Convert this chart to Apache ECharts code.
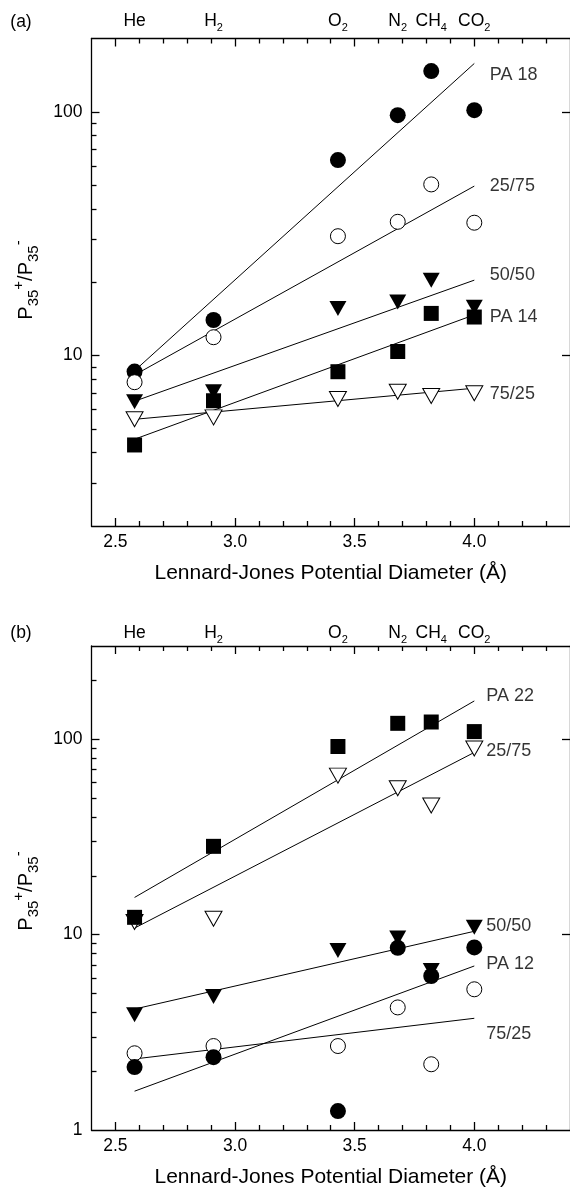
<!DOCTYPE html>
<html>
<head>
<meta charset="utf-8">
<script src="https://cdn.jsdelivr.net/npm/echarts@6/dist/echarts.min.js"></script>
<style>
html, body { margin: 0; padding: 0; background: #fff; }
#chart { width: 570px; height: 1189px; }
</style>
</head>
<body>
<div id="chart"></div>
<script>
"use strict";

// gases on the top axis, Lennard-Jones diameter (A)
var gasX = [2.58, 2.91, 3.43, 3.68, 3.82, 4.0];
var gasNames = ['He', 'H{s|2}', 'O{s|2}', 'N{s|2}', 'CH{s|4}', 'CO{s|2}'];

var xLabels = [2.5, 3.0, 3.5, 4.0];
var xMajorTicks = [2.5, 3.0, 3.5, 4.0, 4.5];
var xMinorTicks = [2.6, 2.7, 2.8, 2.9, 3.1, 3.2, 3.3, 3.4, 3.6, 3.7, 3.8, 3.9, 4.1, 4.2, 4.3];

var yLabelsA = [10, 100];
var yMinorA = [3, 4, 5, 6, 7, 8, 9, 20, 30, 40, 50, 60, 70, 80, 90];
var yLabelsB = [1, 10, 100];
var yMinorB = [2, 3, 4, 5, 6, 7, 8, 9, 20, 30, 40, 50, 60, 70, 80, 90, 200];

// panel (a) P35+/P35- per gas
var pa18A = [8.6, 14.0, 63.4, 96.9, 147, 101.6];
var r5050A = [6.47, 7.11, 15.6, 16.6, 20.4, 15.8];
var r2575A = [7.78, 11.9, 30.9, 35.4, 50.4, 35.1];
var pa14A = [4.3, 6.53, 8.59, 10.4, 14.9, 14.4];
var r7525A = [5.48, 5.58, 6.64, 7.11, 6.83, 7.01];

// panel (a) fit lines, end points [x, y]
var fitPA18A = [[2.58, 8.67], [4.0, 158]];
var fit2575A = [[2.58, 8.33], [4.0, 49.6]];
var fit5050A = [[2.58, 6.5], [4.0, 20.4]];
var fitPA14A = [[2.58, 4.54], [4.0, 14.7]];
var fit7525A = [[2.58, 5.48], [4.0, 7.35]];

var namesA = ['PA 18', '25/75', '50/50', 'PA 14', '75/25'];
var namePosA = [[4.065, 141], [4.065, 49.6], [4.065, 21.4], [4.065, 14.4], [4.065, 6.96]];

// panel (b)
var r2575B = [11.6, 12.06, 65.1, 56.1, 45.8, 89.7];
var pa22B = [12.26, 28.3, 91.8, 120.6, 122.5, 109.4];
var r5050B = [3.89, 4.82, 8.29, 9.62, 6.56, 10.9];
var r7525B = [2.47, 2.69, 2.69, 4.24, 2.17, 5.25];
var pa12B = [2.10, 2.36, 1.25, 8.56, 6.14, 8.6];

var fitPA22B = [[2.58, 15.5], [4.0, 157]];
var fit2575B = [[2.58, 10.8], [4.0, 85.6]];
var fit5050B = [[2.58, 4.16], [4.0, 10.4]];
var fitPA12B = [[2.58, 1.58], [4.0, 6.91]];
var fit7525B = [[2.58, 2.31], [4.0, 3.73]];

var namesB = ['PA 22', '25/75', '50/50', 'PA 12', '75/25'];
var namePosB = [[4.05, 167], [4.05, 87.2], [4.05, 11.1], [4.05, 7.1], [4.05, 3.10]];

var FONT = "'Liberation Sans', Arial, Helvetica, sans-serif";
var BLACK = '#000';
var axisLine = { show: true, lineStyle: { color: BLACK, width: 1.3 } };
var noLine = { show: false };

var filledCircle = { symbol: 'circle', symbolSize: 16, itemStyle: { color: BLACK, opacity: 1 } };
var openCircle = { symbol: 'circle', symbolSize: 15, itemStyle: { color: '#fff', borderColor: BLACK, borderWidth: 1, opacity: 1 } };
var filledSquare = { symbol: 'rect', symbolSize: 15, itemStyle: { color: BLACK, opacity: 1 } };
var filledDown = { symbol: 'triangle', symbolSize: [17, 15], symbolRotate: 180, itemStyle: { color: BLACK, opacity: 1 } };
var openDown = { symbol: 'triangle', symbolSize: [17, 15], symbolRotate: 180, itemStyle: { color: '#fff', borderColor: BLACK, borderWidth: 1, opacity: 1 } };

function gasLabel(v) {
	var best = 0;
	for (var i = 1; i < gasX.length; i++) {
		if (Math.abs(gasX[i] - v) < Math.abs(gasX[best] - v)) best = i;
	}
	return gasNames[best];
}

function xAxes(g, topMargin) {
	var base = { gridIndex: g, type: 'value', min: 2.4, max: 4.4, splitLine: { show: false } };
	return [
		Object.assign({}, base, {
			position: 'bottom', axisLine: axisLine,
			axisTick: { inside: true, length: 8, customValues: xMajorTicks, lineStyle: { color: BLACK, width: 1.3 } },
			axisLabel: { customValues: xLabels, margin: 7, fontSize: 17.5, color: BLACK, fontFamily: FONT,
				formatter: function(v) { return v.toFixed(1); } },
			name: 'Lennard-Jones Potential Diameter (\u00c5)', nameLocation: 'middle', nameGap: 37,
			nameTextStyle: { fontSize: 21, color: BLACK, fontFamily: FONT }
		}),
		Object.assign({}, base, {
			position: 'bottom', axisLine: noLine, axisLabel: { show: false },
			axisTick: { inside: true, length: 5, customValues: xMinorTicks, lineStyle: { color: BLACK, width: 1.3 } }
		}),
		Object.assign({}, base, {
			position: 'top', axisLine: axisLine,
			axisTick: { inside: true, length: 8, customValues: xMajorTicks, lineStyle: { color: BLACK, width: 1.3 } },
			axisLabel: { customValues: gasX, margin: topMargin, fontSize: 17.5, lineHeight: 24, color: BLACK, fontFamily: FONT,
				formatter: gasLabel,
				rich: { s: { fontSize: 11, lineHeight: 11, verticalAlign: 'bottom', color: BLACK, fontFamily: FONT } } }
		}),
		Object.assign({}, base, {
			position: 'top', axisLine: noLine, axisLabel: { show: false },
			axisTick: { inside: true, length: 5, customValues: xMinorTicks, lineStyle: { color: BLACK, width: 1.3 } }
		})
	];
}

function yAxes(g, min, max, labels, minor) {
	var base = { gridIndex: g, type: 'log', logBase: 10, min: min, max: max, splitLine: { show: false } };
	return [
		Object.assign({}, base, {
			position: 'left', axisLine: axisLine,
			axisTick: { inside: true, length: 8, customValues: [10, 100], lineStyle: { color: BLACK, width: 1.3 } },
			axisLabel: { customValues: labels, margin: 9, fontSize: 17.5, color: BLACK, fontFamily: FONT,
				formatter: function(v) { return String(Math.round(v)); } }
		}),
		Object.assign({}, base, {
			position: 'left', axisLine: noLine, axisLabel: { show: false },
			axisTick: { inside: true, length: 5, customValues: minor, lineStyle: { color: BLACK, width: 1.3 } }
		}),
		Object.assign({}, base, {
			position: 'right', axisLine: axisLine, axisLabel: { show: false },
			axisTick: { inside: true, length: 8, customValues: [10, 100], lineStyle: { color: BLACK, width: 1.3 } }
		})
	];
}

function pts(vals) {
	return gasX.map(function(x, i) { return [x, vals[i]]; });
}

function fitLine(g, data) {
	return {
		type: 'line', xAxisIndex: g * 4, yAxisIndex: g * 3, data: data,
		showSymbol: false, symbol: 'none', silent: true, z: 2,
		lineStyle: { color: BLACK, width: 1 }
	};
}

function markers(g, vals, style) {
	return Object.assign({ type: 'scatter', xAxisIndex: g * 4, yAxisIndex: g * 3, data: pts(vals), z: 3, silent: true }, style);
}

function names(g, labels, pos) {
	return {
		type: 'scatter', xAxisIndex: g * 4, yAxisIndex: g * 3, symbol: 'circle', symbolSize: 0, silent: true, z: 4,
		data: pos.map(function(p, i) { return { value: p, name: labels[i] }; }),
		label: { show: true, position: 'right', distance: 0, formatter: '{b}', fontSize: 18, color: BLACK, fontFamily: FONT }
	};
}

var yTitle = {
	text: '{p|P}{s|35}{u|+}{p|/P}{s|35}{u|-}',
	rich: {
		p: { fontSize: 20, lineHeight: 30, fill: BLACK, fontFamily: FONT },
		s: { fontSize: 15, lineHeight: 15, verticalAlign: 'bottom', fill: BLACK, fontFamily: FONT },
		u: { fontSize: 15, lineHeight: 15, verticalAlign: 'top', fill: BLACK, fontFamily: FONT }
	},
	align: 'center', verticalAlign: 'middle'
};

var myChart = echarts.init(document.getElementById('chart'), null, { renderer: 'canvas' });

myChart.setOption({
	animation: false,
	backgroundColor: '#fff',
	textStyle: { fontFamily: FONT },
	grid: [
		{ left: 91.5, top: 38.5, width: 488, height: 487.5 },
		{ left: 91.5, top: 646, width: 488, height: 488 }
	],
	xAxis: xAxes(0, 5).concat(xAxes(1, 1)),
	yAxis: yAxes(0, 2, 200, yLabelsA, yMinorA).concat(yAxes(1, 1, 300, yLabelsB, yMinorB)),
	graphic: [
		{ type: 'text', x: 21, y: 22, style: { text: '(a)', fontSize: 17.5, fill: BLACK, fontFamily: FONT, align: 'center', verticalAlign: 'middle' } },
		{ type: 'text', x: 21, y: 633, style: { text: '(b)', fontSize: 17.5, fill: BLACK, fontFamily: FONT, align: 'center', verticalAlign: 'middle' } },
		{ type: 'text', x: 26, y: 280, rotation: Math.PI / 2, style: yTitle },
		{ type: 'text', x: 26, y: 891, rotation: Math.PI / 2, style: yTitle }
	],
	series: [
		fitLine(0, fitPA18A), fitLine(0, fit2575A), fitLine(0, fit5050A), fitLine(0, fitPA14A), fitLine(0, fit7525A),
		markers(0, pa18A, filledCircle),
		markers(0, r5050A, filledDown),
		markers(0, r2575A, openCircle),
		markers(0, pa14A, filledSquare),
		markers(0, r7525A, openDown),
		names(0, namesA, namePosA),

		fitLine(1, fitPA22B), fitLine(1, fit2575B), fitLine(1, fit5050B), fitLine(1, fitPA12B), fitLine(1, fit7525B),
		markers(1, r2575B, openDown),
		markers(1, pa22B, filledSquare),
		markers(1, r5050B, filledDown),
		markers(1, r7525B, openCircle),
		markers(1, pa12B, filledCircle),
		names(1, namesB, namePosB)
	]
});
</script>
</body>
</html>
